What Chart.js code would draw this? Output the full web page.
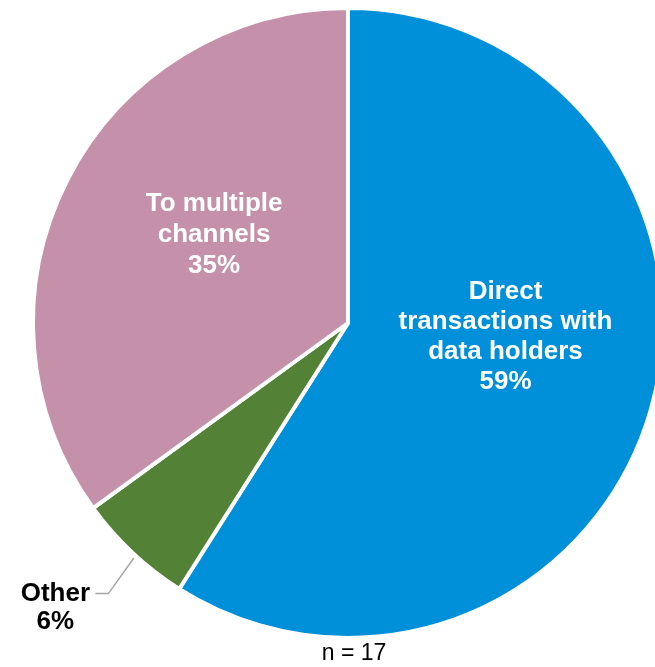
<!DOCTYPE html>
<html>
<head>
<meta charset="utf-8">
<script src="https://cdn.jsdelivr.net/npm/chart.js@4.4.1/dist/chart.umd.min.js"></script>
<style>
  html, body { margin: 0; padding: 0; background: #ffffff; overflow: hidden; }
  #wrap { position: relative; width: 655px; height: 667px; overflow: hidden; }
  canvas { position: absolute; left: 0; top: 0; }
</style>
</head>
<body>
<div id="wrap"><canvas id="pie" width="700" height="667"></canvas></div>
<script>
// Share of respondents by channel (n = 17)
const categories = ['Direct transactions with data holders', 'Other', 'To multiple channels'];
const labelLines = [
  ['Direct', 'transactions with', 'data holders'],
  ['Other'],
  ['To multiple', 'channels']
];
const shares = [59, 6, 35];
const sliceColors = ['#0090DA', '#538135', '#C490AA'];
const sampleNote = 'n = 17';

const FONT = '"Liberation Sans", Arial, sans-serif';

// Slice labels: inside labels sit at a fraction of the radius from the centre,
// the small slice gets an outside label with a leader line.
const labelPlugin = {
  id: 'sliceLabels',
  afterDatasetsDraw(chart) {
    const ctx = chart.ctx;
    const meta = chart.getDatasetMeta(0);
    const arcs = meta.data;
    const cx = arcs[0].x, cy = arcs[0].y, r = arcs[0].outerRadius;
    ctx.save();
    ctx.textAlign = 'center';
    ctx.textBaseline = 'middle';
    ctx.font = 'bold 26px ' + FONT;

    const drawBlock = (lines, x, y, color, lh) => {
      ctx.fillStyle = color;
      const y0 = y - (lines.length - 1) * lh / 2;
      lines.forEach((t, i) => ctx.fillText(t, x, y0 + i * lh));
    };

    // Direct transactions
    drawBlock([...labelLines[0], shares[0] + '%'], cx + 0.50 * r, cy + 0.045 * r, '#ffffff', 30);
    // To multiple channels
    drawBlock([...labelLines[2], shares[2] + '%'], cx - 0.425 * r, cy - 0.28 * r, '#ffffff', 31);

    // Other: outside label with leader line
    const a = arcs[1];
    const mid = (a.startAngle + a.endAngle) / 2 - 0.015;
    const sx = cx + Math.cos(mid) * (r + 3);
    const sy = cy + Math.sin(mid) * (r + 3);
    const tx = cx - 0.802 * r, ty = cy + 0.859 * r;
    ctx.strokeStyle = '#A6A6A6';
    ctx.lineWidth = 1.5;
    ctx.beginPath();
    ctx.moveTo(sx, sy);
    ctx.lineTo(tx + 13, ty);
    ctx.lineTo(tx, ty);
    ctx.stroke();
    drawBlock([...labelLines[1], shares[1] + '%'], tx - 40, ty + 14, '#000000', 28);

    // sample size note
    ctx.font = '23px ' + FONT;
    ctx.fillStyle = '#000000';
    ctx.fillText(sampleNote, cx + 6, cy + r + 16);
    ctx.restore();
  }
};

new Chart(document.getElementById('pie'), {
  type: 'pie',
  data: {
    labels: categories,
    datasets: [{
      data: shares,
      backgroundColor: sliceColors,
      borderColor: '#ffffff',
      borderWidth: 4
    }]
  },
  options: {
    responsive: false,
    animation: false,
    rotation: 0,
    layout: { padding: { left: 31, right: 35, top: 6, bottom: 27 } },
    plugins: {
      legend: { display: false },
      tooltip: { enabled: false }
    }
  },
  plugins: [labelPlugin]
});
</script>
</body>
</html>
